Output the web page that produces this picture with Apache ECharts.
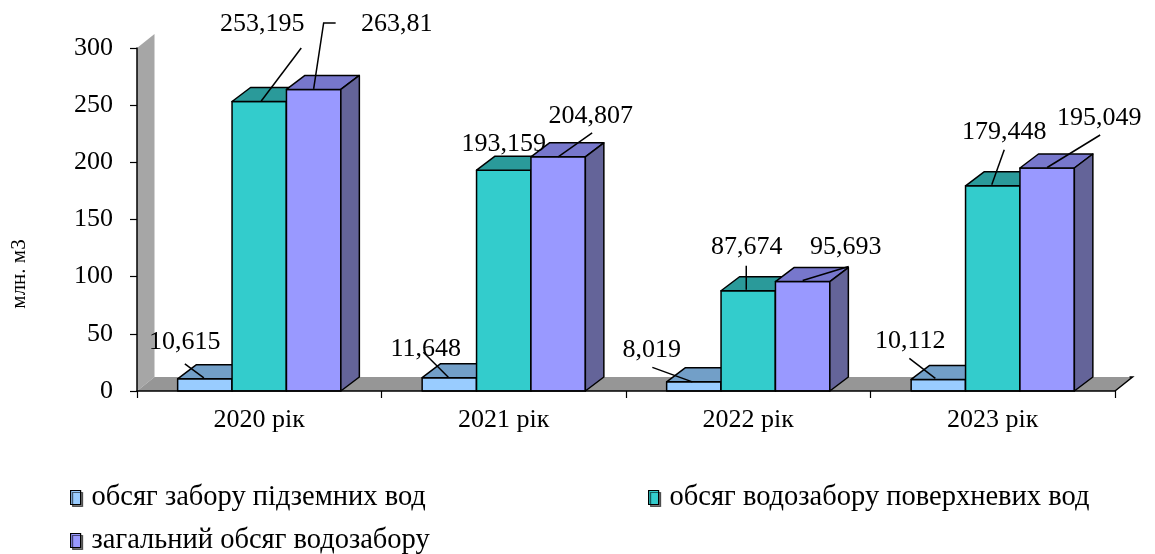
<!DOCTYPE html>
<html>
<head>
<meta charset="utf-8">
<script src="https://cdn.jsdelivr.net/npm/echarts@6/dist/echarts.min.js"></script>
<style>
html,body{margin:0;padding:0;background:#fff;}
#chart{width:1155px;height:554px;}
</style>
</head>
<body>
<div id="chart"></div>
<script>
// ---- data ----
const categories = ['2020 рік', '2021 рік', '2022 рік', '2023 рік'];
const seriesNames = ['обсяг забору підземних вод', 'обсяг водозабору поверхневих вод', 'загальний обсяг водозабору'];
const groundwater = [10.615, 11.648, 8.019, 10.112];
const surface = [253.195, 193.159, 87.674, 179.448];
const total = [263.81, 204.807, 95.693, 195.049];
const yMin = 0, yMax = 300, yInterval = 50;
const yAxisTitle = 'млн. м3';

// ---- styling / layout ----
const FONT = "'Liberation Serif','Times New Roman',serif";
const FS = 26;
const LEGEND_FS = 28.5;
const FRONT = ['#99CCFF', '#33CCCC', '#9999FF'];
const TOP = ['#729FC8', '#2A9A9A', '#7777CC'];
const SIDE = ['#5E84A8', '#1F7A7A', '#646499'];
const BAR_RATIO = 0.2225;
const DX = 18.5, DY = -14;
const WDX = 17.5, WDY = -14;
// label offsets relative to bar front-top centre: [dx, dy, leader polyline points]
const LABEL_POS = [
  [[-20, -36.5, [[-20, -15], [-1, -1]]],
   [-23.5, -29, [[-26, -25.5], [-1, -0.5]]],
   [-42, -31.5, [[-41.5, -14.5], [-1.5, 0]]],
   [-28, -38.5, [[-29, -21], [-3, -1]]]],
  [[3, -77.5, [[42, -53.5], [2, -0.5]]],
   [0, -26, null],
   [-1.5, -44, [[-2, -25], [-2, -1]]],
   [11.5, -54, [[11.5, -36], [-1, -1]]]],
  [[83, -65.5, [[22, -66.4], [10, -66.4], [0, -0.4]]],
   [32.5, -41, [[34, -24], [0, 0]]],
   [43, -34, [[46, -15], [0, -1]]],
   [52, -50, [[53, -33], [0, -0.5]]]]
];

const seriesValues = [groundwater, surface, total];

function fmt(v) { return String(v).replace('.', ','); }

function makeBarRender(si) {
  return function (params, api) {
    const ci = api.value(0), v = api.value(1);
    const band = api.size([1, 0])[0];
    const bw = band * BAR_RATIO;
    const base = api.coord([ci, 0]);
    const top = api.coord([ci, v]);
    const x0 = base[0] - 1.5 * bw + si * bw, x1 = x0 + bw;
    const yb = base[1], yt = top[1];
    const st = { stroke: '#000', lineWidth: 1.5, lineJoin: 'round' };
    const children = [
      { type: 'polygon', z2: si * 3, shape: { points: [[x0, yb], [x1, yb], [x1, yt], [x0, yt]] }, style: Object.assign({ fill: FRONT[si] }, st) },
      { type: 'polygon', z2: si * 3 + 1, shape: { points: [[x0, yt], [x1, yt], [x1 + DX, yt + DY], [x0 + DX, yt + DY]] }, style: Object.assign({ fill: TOP[si] }, st) },
      { type: 'polygon', z2: si * 3 + 1, shape: { points: [[x1, yb], [x1 + DX, yb + DY], [x1 + DX, yt + DY], [x1, yt]] }, style: Object.assign({ fill: SIDE[si] }, st) }
    ];
    const cx = (x0 + x1) / 2;
    const lp = LABEL_POS[si][ci];
    if (lp[2]) {
      children.push({ type: 'polyline', z2: 100, shape: { points: lp[2].map(p => [cx + p[0], yt + p[1]]) }, style: { stroke: '#000', lineWidth: 1.5, fill: null } });
    }
    children.push({ type: 'text', z2: 101, x: cx + lp[0], y: yt + lp[1],
      style: { text: fmt(v), font: FS + 'px ' + FONT, fill: '#000', align: 'center', verticalAlign: 'middle' } });
    return { type: 'group', children: children };
  };
}

function renderFrame(params, api) {
  const cs = params.coordSys;
  const xl = cs.x, xr = cs.x + cs.width, yt = cs.y, yb = cs.y + cs.height;
  return {
    type: 'group',
    children: [
      { type: 'polygon', shape: { points: [[xl, yt], [xl + WDX, yt + WDY], [xl + WDX, yb + WDY], [xl, yb]] }, style: { fill: '#A6A6A6' } },
      { type: 'polygon', shape: { points: [[xl, yb], [xl + WDX, yb + WDY], [xr + WDX, yb + WDY], [xr, yb]] }, style: { fill: '#969696' } },
      { type: 'polyline', shape: { points: [[xr, yb], [xr + WDX, yb + WDY], [xr + WDX - 3, yb + WDY]] }, style: { stroke: '#000', lineWidth: 1.5, fill: null } }
    ]
  };
}

const chart = echarts.init(document.getElementById('chart'), null, { renderer: 'canvas' });

const series = [{
  type: 'custom', name: '__frame', z: 1, silent: true,
  renderItem: renderFrame, data: [[0, 0]], encode: { x: 0, y: 1 }
}];
seriesValues.forEach((arr, si) => {
  series.push({
    type: 'custom', name: seriesNames[si], z: 2,
    itemStyle: { color: FRONT[si] },
    renderItem: makeBarRender(si),
    encode: { x: 0, y: 1 },
    data: arr.map((v, i) => [i, v])
  });
});

const legendItem = (i) => ({
  name: seriesNames[i], icon: 'rect',
  itemStyle: { color: FRONT[i], borderColor: '#000', borderWidth: 1.2, shadowColor: 'rgba(0,0,0,0.55)', shadowOffsetX: 2, shadowOffsetY: 2, shadowBlur: 0 }
});
const legendBase = {
  orient: 'horizontal', padding: 0, itemWidth: 10, itemHeight: 14, selectedMode: false,
  textStyle: { fontFamily: FONT, fontSize: LEGEND_FS, color: '#000', padding: [0, 0, 0, 6] }
};

chart.setOption({
  animation: false,
  backgroundColor: '#fff',
  grid: { left: 137, right: 40, top: 48, bottom: 163, containLabel: false },
  xAxis: {
    type: 'category', data: categories, boundaryGap: true, z: 5,
    axisLine: { lineStyle: { color: '#000', width: 1.5 } },
    axisTick: { show: true, length: 7, lineStyle: { color: '#000', width: 1.2 } },
    axisLabel: { margin: 16, fontFamily: FONT, fontSize: FS, color: '#000' },
    splitLine: { show: false }
  },
  yAxis: {
    type: 'value', min: yMin, max: yMax, interval: yInterval, z: 5,
    axisLine: { show: true, lineStyle: { color: '#000', width: 1.5 } },
    axisTick: { show: true, length: 7, lineStyle: { color: '#000', width: 1.2 } },
    axisLabel: { margin: 24, fontFamily: FONT, fontSize: FS, color: '#000' },
    splitLine: { show: false }
  },
  legend: [
    Object.assign({}, legendBase, { left: 70, top: 483, data: [legendItem(0)] }),
    Object.assign({}, legendBase, { left: 648, top: 483, data: [legendItem(1)] }),
    Object.assign({}, legendBase, { left: 70, top: 526, data: [legendItem(2)] })
  ],
  graphic: [{
    type: 'text', x: 19, y: 274, rotation: Math.PI / 2,
    style: { text: yAxisTitle, font: '21px ' + FONT, fill: '#000', align: 'center', verticalAlign: 'middle' }
  }],
  series: series
});
</script>
</body>
</html>
